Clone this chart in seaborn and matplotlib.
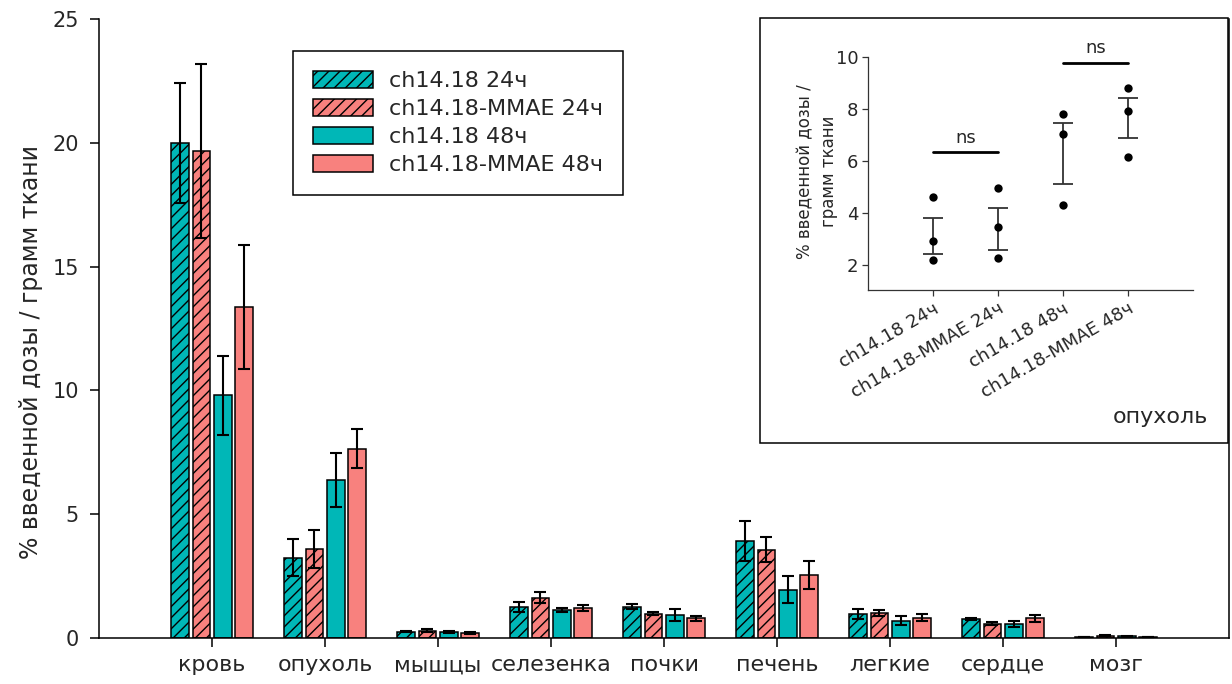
import numpy as np
import pandas as pd
import matplotlib
matplotlib.use('Agg')
import matplotlib.pyplot as plt
from matplotlib.patches import Patch, Rectangle
import seaborn as sns

organs = ['кровь', 'опухоль', 'мышцы', 'селезенка', 'почки', 'печень', 'легкие', 'сердце', 'мозг']
groups = ['ch14.18 24ч', 'ch14.18-MMAE 24ч', 'ch14.18 48ч', 'ch14.18-MMAE 48ч']

# mean % dose / g tissue, organ order as above
ch_24 = [20.0, 3.24, 0.26, 1.26, 1.26, 3.92, 0.96, 0.76, 0.03]
mmae_24 = [19.67, 3.58, 0.30, 1.62, 0.98, 3.56, 1.02, 0.58, 0.08]
ch_48 = [9.8, 6.37, 0.26, 1.12, 0.94, 1.95, 0.70, 0.56, 0.06]
mmae_48 = [13.37, 7.65, 0.21, 1.22, 0.80, 2.55, 0.82, 0.80, 0.04]

ch_24_err = [2.43, 0.74, 0.03, 0.20, 0.10, 0.80, 0.20, 0.05, 0.01]
mmae_24_err = [3.50, 0.77, 0.05, 0.22, 0.07, 0.50, 0.12, 0.05, 0.02]
ch_48_err = [1.60, 1.08, 0.04, 0.08, 0.24, 0.55, 0.17, 0.12, 0.02]
mmae_48_err = [2.50, 0.77, 0.05, 0.12, 0.10, 0.56, 0.13, 0.14, 0.01]

# inset: tumour, single animals
tumor_ch_24 = [4.63, 2.93, 2.19]
tumor_mmae_24 = [4.97, 3.47, 2.28]
tumor_ch_48 = [7.80, 7.03, 4.32]
tumor_mmae_48 = [8.83, 7.92, 6.18]
tumor_mean = [3.13, 3.40, 6.30, 7.67]
tumor_err = [0.69, 0.80, 1.17, 0.76]

teal = '#00b7b7'
salmon = '#f8817e'
colors = [teal, salmon, teal, salmon]
hatches = ['///', '///', '', '']

sns.set_style('ticks')
plt.rcParams['font.family'] = ['DejaVu Sans']
plt.rcParams['hatch.linewidth'] = 1.0

df = pd.DataFrame({
    'organ': organs * 4,
    'group': np.repeat(groups, len(organs)),
    'value': ch_24 + mmae_24 + ch_48 + mmae_48,
})

fig = plt.figure(figsize=(12.32, 6.84), dpi=100)
ax = fig.add_axes([0.0804, 0.0673, 0.9172, 0.9050])

sns.barplot(data=df, x='organ', y='value', hue='group', order=organs, hue_order=groups,
            palette=dict(zip(groups, colors)), saturation=1, width=0.76, gap=0.18,
            errorbar=None, edgecolor='black', linewidth=1.1, legend=False, ax=ax)

errs = [ch_24_err, mmae_24_err, ch_48_err, mmae_48_err]
vals = [ch_24, mmae_24, ch_48, mmae_48]
for cont, h, v, e in zip(ax.containers, hatches, vals, errs):
    xs = []
    for b in cont:
        b.set_hatch(h)
        xs.append(b.get_x() + b.get_width() / 2)
    ax.errorbar(xs, v, yerr=e, fmt='none', ecolor='black', elinewidth=1.5,
                capsize=4.5, capthick=1.5, zorder=4)

ax.set_xlim(-1, 9)
ax.set_ylim(0, 25)
ax.set_yticks([0, 5, 10, 15, 20, 25])
ax.set_xlabel('')
ax.set_ylabel('% введенной дозы / грамм ткани', fontsize=17)
ax.yaxis.set_label_coords(-0.050, 0.462)
ax.spines['top'].set_visible(False)
for s in ['left', 'bottom', 'right']:
    ax.spines[s].set_linewidth(1.1)
    ax.spines[s].set_color('black')
ax.tick_params(axis='y', length=6.5, width=1.1, labelsize=15, pad=8, color='black')
ax.tick_params(axis='x', length=6.5, width=1.1, labelsize=16, pad=6, color='black')

handles = [Patch(facecolor=c, edgecolor='black', hatch=h, linewidth=1.1) for c, h in zip(colors, hatches)]
leg = ax.legend(handles, groups, loc='upper left', bbox_to_anchor=(0.1717, 0.948),
                borderaxespad=0, fontsize=16, handlelength=2.7, handleheight=0.8,
                labelspacing=0.35, borderpad=0.9, handletextpad=0.7,
                fancybox=False, framealpha=1, edgecolor='black')
leg.get_frame().set_linewidth(1.1)

# inset frame
ax.add_patch(Rectangle((0.6169, 0.3523), 0.3799, 0.6213, transform=fig.transFigure,
                       facecolor='white', edgecolor='black', lw=1.1, zorder=10, clip_on=False))

ax2 = fig.add_axes([0.7045, 0.576, 0.2638, 0.3402])
ax2.patch.set_alpha(0)
inset_x = np.repeat(groups, 3)
inset_y = tumor_ch_24 + tumor_mmae_24 + tumor_ch_48 + tumor_mmae_48
sns.stripplot(x=inset_x, y=inset_y, jitter=False, color='black', size=6, ax=ax2, zorder=3)
ax2.errorbar(range(4), tumor_mean, yerr=tumor_err, fmt='none', ecolor='#333333',
             elinewidth=1.3, capsize=7, capthick=1.3, zorder=2)

ax2.plot([0, 1], [6.35, 6.35], color='black', lw=2)
ax2.text(0.5, 6.55, 'ns', ha='center', va='bottom', fontsize=13)
ax2.plot([2, 3], [9.8, 9.8], color='black', lw=2, clip_on=False)
ax2.text(2.5, 10.0, 'ns', ha='center', va='bottom', fontsize=13, clip_on=False)

ax2.set_xlim(-1, 4)
ax2.set_ylim(1.04, 10)
ax2.set_yticks([2, 4, 6, 8, 10])
ax2.set_xticks(range(4))
ax2.set_xticklabels(groups, rotation=30, ha='right', rotation_mode='anchor')
ax2.spines['top'].set_visible(False)
ax2.spines['right'].set_visible(False)
for s in ['left', 'bottom']:
    ax2.spines[s].set_linewidth(0.9)
    ax2.spines[s].set_color('#333333')
ax2.tick_params(length=4, width=0.9, labelsize=13, color='#333333', pad=3)
ax2.set_ylabel('% введенной дозы /\nграмм ткани', fontsize=12, linespacing=1.4)
ax2.yaxis.set_label_coords(-0.092, 0.51)

fig.text(0.9805, 0.3816, 'опухоль', ha='right', va='baseline', fontsize=16)

fig.savefig('out.png', dpi=100)
